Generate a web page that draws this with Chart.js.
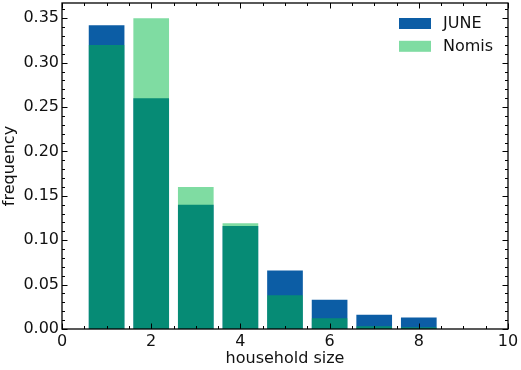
<!DOCTYPE html>
<html>
<head>
<meta charset="utf-8">
<script src="https://cdn.jsdelivr.net/npm/chart.js@4/dist/chart.umd.min.js"></script>
<style>
  html, body { margin: 0; padding: 0; background: #fff; }
  #chart { display: block; }
</style>
</head>
<body>
<canvas id="chart" width="521" height="370"></canvas>
<script>
// ── Data ──────────────────────────────────────────────────────────────────────

const householdSizes = [1, 2, 3, 4, 5, 6, 7, 8];
const juneFreq  = [0.342, 0.260, 0.140, 0.116, 0.066, 0.033, 0.016, 0.013];
const nomisFreq = [0.320, 0.350, 0.160, 0.119, 0.038, 0.012, 0.003, 0.002];

const xTicks = [0, 2, 4, 6, 8, 10];
const yTicks = [0, 0.05, 0.10, 0.15, 0.20, 0.25, 0.30, 0.35];

const FONT = 'DejaVu Sans';

// ── Matplotlib-like frame with inward ticks on all four sides ───────────────

const framePlugin = {
  id: 'frame',
  afterDatasetsDraw(chart) {
    const { ctx, chartArea: a, scales } = chart;
    const x = scales.x, y = scales.y;
    ctx.save();
    ctx.strokeStyle = '#000';
    ctx.lineWidth = 1;
    ctx.beginPath();
    const tick = (v, len, horiz) => {
      if (horiz) {
        const px = Math.round(x.getPixelForValue(v)) + 0.5;
        ctx.moveTo(px, a.bottom); ctx.lineTo(px, a.bottom - len);
        ctx.moveTo(px, a.top); ctx.lineTo(px, a.top + len);
      } else {
        const py = Math.round(y.getPixelForValue(v)) + 0.5;
        ctx.moveTo(a.left, py); ctx.lineTo(a.left + len, py);
        ctx.moveTo(a.right, py); ctx.lineTo(a.right - len, py);
      }
    };
    for (let v = 0; v <= 10.001; v += 0.5) tick(v, Math.abs(v % 2) < 1e-6 ? 5.5 : 3, true);
    for (let i = 0; i <= 36; i++) tick(i / 100, i % 5 === 0 ? 5.5 : 3, false);
    ctx.stroke();
    ctx.lineWidth = 1.3;
    ctx.strokeRect(a.left, a.top, a.right - a.left, a.bottom - a.top);
    ctx.restore();
  },
};

// ── Legend inside the plot, top right ─────────────────────────────────────────

const innerLegend = {
  id: 'innerLegend',
  afterDraw(chart) {
    const { ctx, chartArea: a } = chart;
    ctx.save();
    ctx.font = `16px "${FONT}"`;
    ctx.textBaseline = 'middle';
    chart.data.datasets.forEach((ds, i) => {
      const top = a.top + 15 + i * 22.8;
      ctx.fillStyle = '#fff';
      ctx.fillRect(a.right - 109, top, 32, 11);
      ctx.fillStyle = ds.backgroundColor;
      ctx.fillRect(a.right - 109, top, 32, 11);
      ctx.fillStyle = '#111';
      ctx.fillText(ds.label, a.right - 65, top + 6);
    });
    ctx.restore();
  },
};

new Chart(document.getElementById('chart'), {
  type: 'bar',
  data: {
    datasets: [
      {
        label: 'JUNE',
        data: householdSizes.map((h, i) => ({ x: h, y: juneFreq[i] })),
        backgroundColor: '#0C5DA5',
        borderWidth: 0,
        grouped: false,
        order: 1,
      },
      {
        label: 'Nomis',
        data: householdSizes.map((h, i) => ({ x: h, y: nomisFreq[i] })),
        backgroundColor: 'rgba(0,185,69,0.5)',
        borderWidth: 0,
        grouped: false,
        order: 0,
      },
    ],
  },
  options: {
    responsive: false,
    animation: false,
    devicePixelRatio: 1,
    layout: { padding: { top: 3, right: 13, left: 0, bottom: 0 } },
    barPercentage: 0.8,
    categoryPercentage: 1.0,
    plugins: {
      legend: { display: false },
      tooltip: { enabled: false },
    },
    scales: {
      x: {
        type: 'linear',
        min: 0,
        max: 10,
        offset: false,
        afterBuildTicks: s => { s.ticks = xTicks.map(v => ({ value: v })); },
        afterFit: s => { s.height = 41; s.paddingLeft = 0; s.paddingRight = 0; },
        grid: { display: false, drawTicks: false },
        border: { display: false },
        ticks: {
          padding: 3,
          maxRotation: 0,
          autoSkip: false,
          font: { size: 16, family: FONT },
          color: '#111',
        },
        title: {
          display: true,
          text: 'household size',
          font: { size: 16, family: FONT },
          color: '#111',
          padding: { top: 0, bottom: 2 },
        },
      },
      y: {
        type: 'linear',
        min: 0,
        max: 0.3672,
        afterBuildTicks: s => { s.ticks = yTicks.map(v => ({ value: v })); },
        afterFit: s => { s.width = 62; s.paddingTop = 0; s.paddingBottom = 0; },
        grid: { display: false, drawTicks: false },
        border: { display: false },
        ticks: {
          padding: 3,
          autoSkip: false,
          font: { size: 16, family: FONT },
          color: '#111',
          callback: v => Number(v).toFixed(2),
        },
        title: {
          display: true,
          text: 'frequency',
          font: { size: 16, family: FONT },
          color: '#111',
          padding: { top: 0, bottom: 0 },
        },
      },
    },
  },
  plugins: [framePlugin, innerLegend],
});
</script>
</body>
</html>
